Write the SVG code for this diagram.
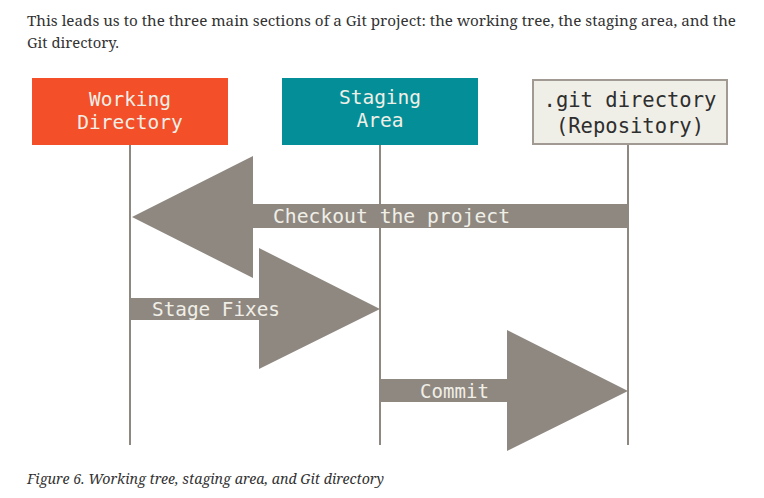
<svg xmlns="http://www.w3.org/2000/svg" width="764" height="498" viewBox="0 0 764 498">
<style>
.prose{font-family:"Noto Serif","Liberation Serif",serif;font-size:15px;fill:#333}
.cap{font-family:"Noto Serif","Liberation Serif",serif;font-size:15px;font-style:italic;fill:#333}
.mono{font-family:"DejaVu Sans Mono","Liberation Mono",monospace;text-anchor:middle}
.lbl{font-size:19.5px;fill:#f0efe7}
.alb{font-family:"DejaVu Sans Mono","Liberation Mono",monospace;font-size:19px;fill:#f0efe7}
.life{stroke:#8f8881;stroke-width:2;fill:none}
.arr{fill:#8f8881}
</style>
<rect width="764" height="498" fill="#fff"/>
<text class="prose" x="27" y="26" textLength="709" lengthAdjust="spacingAndGlyphs">This leads us to the three main sections of a Git project: the working tree, the staging area, and the</text>
<text class="prose" x="27" y="48" textLength="92" lengthAdjust="spacingAndGlyphs">Git directory.</text>
<g id="connectors">
<line class="life" x1="130" y1="145" x2="130" y2="445"/>
<line class="life" x1="380" y1="145" x2="380" y2="445"/>
<line class="life" x1="628" y1="145" x2="628" y2="445"/>
<polygon class="arr" points="628,204 253,204 253,156 132,217 253,278 253,228 628,228"/>
<polygon class="arr" points="131,298 259,298 259,248 380,309 259,369 259,320 131,320"/>
<polygon class="arr" points="381,379 507,379 507,330 628,391 507,451 507,402 381,402"/>
<text class="alb" x="273" y="223" textLength="237" lengthAdjust="spacingAndGlyphs">Checkout the project</text>
<text class="alb" x="152" y="316" textLength="128" lengthAdjust="spacingAndGlyphs">Stage Fixes</text>
<text class="alb" x="420" y="398" textLength="69" lengthAdjust="spacingAndGlyphs">Commit</text>
</g>
<g id="working">
<rect x="32" y="78" width="196" height="67" fill="#f34f29"/>
<text class="mono lbl" x="130" y="106">Working</text>
<text class="mono lbl" x="130" y="129">Directory</text>
</g>
<g id="staging">
<rect x="282" y="78" width="196" height="67" fill="#048f98"/>
<text class="mono lbl" x="380" y="104">Staging</text>
<text class="mono lbl" x="380" y="127">Area</text>
</g>
<g id="gitdir">
<rect x="533" y="80" width="194" height="64" fill="#f0efe7" stroke="#a09a93" stroke-width="2"/>
<text class="mono" x="630" y="107" font-size="20.5" fill="#2e2e2e">.git directory</text>
<text class="mono" x="630" y="133" font-size="20.5" fill="#2e2e2e">(Repository)</text>
</g>
<text class="cap" x="27" y="484" textLength="357" lengthAdjust="spacingAndGlyphs">Figure 6. Working tree, staging area, and Git directory</text>
</svg>
